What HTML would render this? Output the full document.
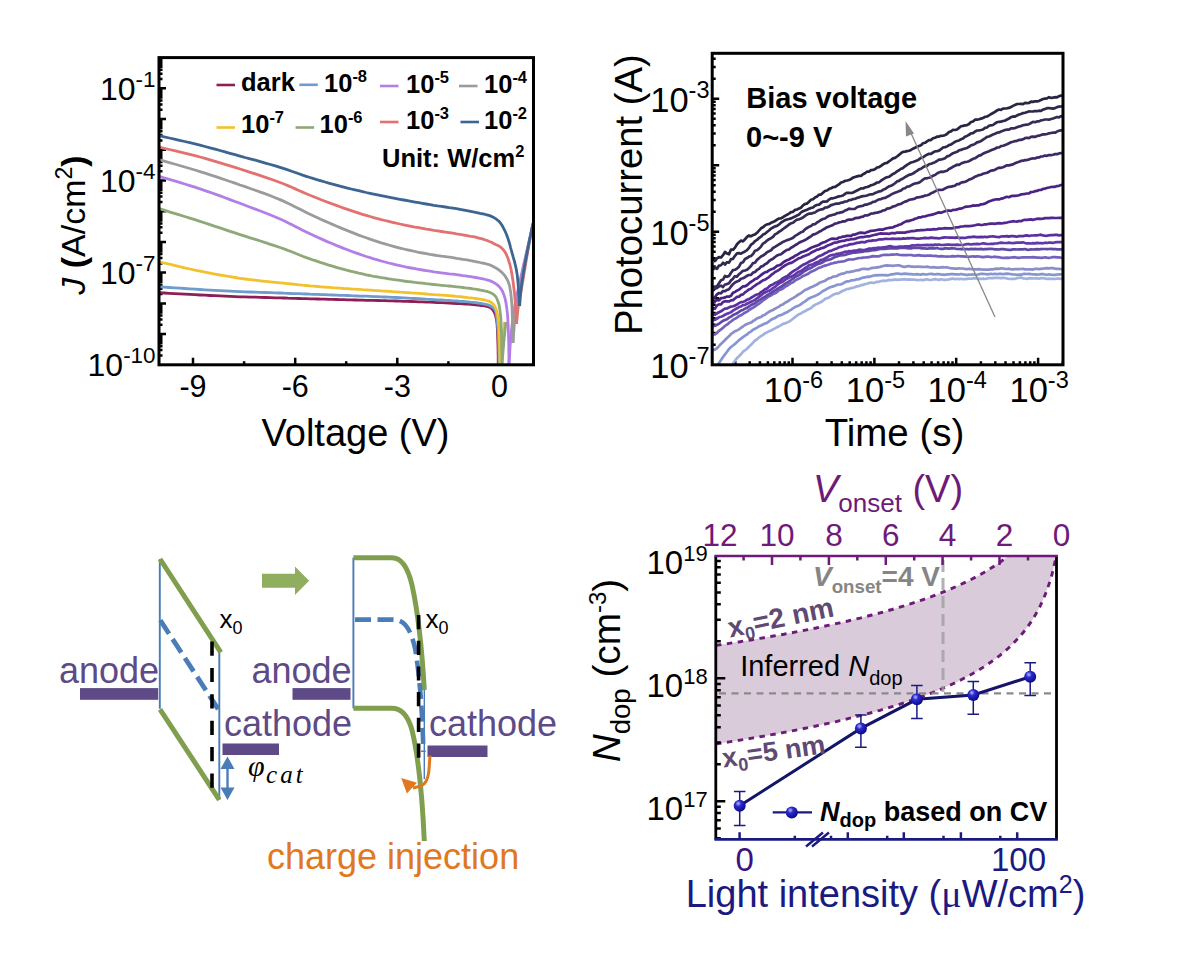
<!DOCTYPE html>
<html><head><meta charset="utf-8"><style>
html,body{margin:0;padding:0;background:#fff;}
svg{display:block;}
text{font-family:"Liberation Sans", sans-serif;}
</style></head><body>
<svg width="1181" height="959" viewBox="0 0 1181 959">
<rect width="1181" height="959" fill="#fff"/>
<path d="M193,364.8 v-7 M295.2,364.8 v-7 M397.3,364.8 v-7 M499.5,364.8 v-7 M244.1,364.8 v-3.5 M346.2,364.8 v-3.5 M448.4,364.8 v-3.5 M159,355.6 h3.5 M159,350.1 h3.5 M159,346.3 h3.5 M159,343.3 h3.5 M159,340.9 h3.5 M159,338.8 h3.5 M159,337.1 h3.5 M159,335.5 h3.5 M159,334.1 h7 M159,324.8 h3.5 M159,319.4 h3.5 M159,315.6 h3.5 M159,312.6 h3.5 M159,310.2 h3.5 M159,308.1 h3.5 M159,306.3 h3.5 M159,304.8 h3.5 M159,303.4 h7 M159,294.1 h3.5 M159,288.7 h3.5 M159,284.9 h3.5 M159,281.9 h3.5 M159,279.5 h3.5 M159,277.4 h3.5 M159,275.6 h3.5 M159,274 h3.5 M159,272.6 h7 M159,263.4 h3.5 M159,258 h3.5 M159,254.1 h3.5 M159,251.2 h3.5 M159,248.7 h3.5 M159,246.7 h3.5 M159,244.9 h3.5 M159,243.3 h3.5 M159,241.9 h7 M159,232.7 h3.5 M159,227.3 h3.5 M159,223.4 h3.5 M159,220.4 h3.5 M159,218 h3.5 M159,216 h3.5 M159,214.2 h3.5 M159,212.6 h3.5 M159,211.2 h7 M159,202 h3.5 M159,196.5 h3.5 M159,192.7 h3.5 M159,189.7 h3.5 M159,187.3 h3.5 M159,185.2 h3.5 M159,183.5 h3.5 M159,181.9 h3.5 M159,180.5 h7 M159,171.2 h3.5 M159,165.8 h3.5 M159,162 h3.5 M159,159 h3.5 M159,156.6 h3.5 M159,154.5 h3.5 M159,152.7 h3.5 M159,151.2 h3.5 M159,149.8 h7 M159,140.5 h3.5 M159,135.1 h3.5 M159,131.3 h3.5 M159,128.3 h3.5 M159,125.9 h3.5 M159,123.8 h3.5 M159,122 h3.5 M159,120.4 h3.5 M159,119 h7 M159,109.8 h3.5 M159,104.4 h3.5 M159,100.5 h3.5 M159,97.6 h3.5 M159,95.1 h3.5 M159,93.1 h3.5 M159,91.3 h3.5 M159,89.7 h3.5 M159,88.3 h7 M159,79.1 h3.5 M159,73.7 h3.5 M159,69.8 h3.5 M159,66.8 h3.5 M159,64.4 h3.5 M159,62.4 h3.5 M159,60.6 h3.5 M159,59 h3.5 " stroke="#000" stroke-width="2.5" fill="none"/>
<clipPath id="c1"><rect x="159.0" y="57.6" width="374.5" height="307.2"/></clipPath>
<g clip-path="url(#c1)" fill="none" stroke-linejoin="round" stroke-width="2.8">
<path d="M500,365 L500.2,362.5 L500.5,360 L500.7,357.6 L501,355.1 L501.2,352.6 L501.5,350.1 L501.7,347.6 L502,345 L502.3,342.2 L502.6,339.4 L502.9,336.5 L503.2,333.6 L503.5,330.7 L503.9,327.8 L504.2,324.9 L504.5,322" stroke="#f2c12e"/>
<path d="M502,365 L502.2,361.8 L502.5,358.7 L502.7,355.4 L503,352.2 L503.2,349.1 L503.5,346 L503.7,342.9 L504,340 L504.2,337.6 L504.5,335.3 L504.7,333 L505,330.8 L505.2,328.6 L505.5,326.4 L505.7,324.2 L506,322" stroke="#8fa878"/>
<path d="M509,365 L509.2,361.2 L509.5,357.5 L509.7,353.7 L509.9,350 L510.1,346.2 L510.4,342.5 L510.7,338.7 L511,335 L511.4,331.3 L511.8,327.5 L512.2,323.8 L512.7,320.1 L513.2,316.3 L513.8,312.6 L514.4,308.8 L515,305 L515.7,301 L516.5,297 L517.3,293 L518.2,289 L519.1,284.9 L520,280.7 L521,276.4 L522,272 L523.2,266.4 L524.6,260.6 L525.9,254.7 L527.3,248.6 L528.8,242.4 L530.2,236.2 L531.6,230.1 L533,224" stroke="#b27fe6"/>
<path d="M513,343 L513.2,339.9 L513.4,336.7 L513.6,333.5 L513.9,330.4 L514.1,327.2 L514.3,324.1 L514.6,321 L515,318 L515.4,315.2 L515.8,312.5 L516.3,309.8 L516.8,307.2 L517.4,304.5 L517.9,301.8 L518.5,299 L519,296 L519.7,292.1 L520.4,288.1 L521.1,283.9 L521.8,279.6 L522.6,275.2 L523.4,270.8 L524.2,266.4 L525,262 L525.9,257.3 L526.9,252.6 L527.9,247.9 L528.9,243.1 L529.9,238.3 L531,233.5 L532,228.8 L533,224" stroke="#9b9b9b"/>
<path d="M516.5,324 L516.7,321.6 L517,319.3 L517.2,317 L517.4,314.7 L517.6,312.3 L517.9,309.9 L518.2,307.5 L518.5,305 L518.9,302 L519.5,299 L520,296 L520.6,292.9 L521.2,289.7 L521.8,286.5 L522.4,283.3 L523,280 L523.6,276.4 L524.2,272.6 L524.9,268.9 L525.5,265 L526.1,261.2 L526.7,257.4 L527.4,253.7 L528,250 L528.6,246.7 L529.2,243.4 L529.9,240.1 L530.5,236.9 L531.1,233.7 L531.7,230.5 L532.4,227.2 L533,224" stroke="#e3716f"/>
<path d="M159,292.7 L164.1,293 L169.3,293.3 L174.4,293.6 L179.5,293.9 L184.7,294.1 L189.8,294.4 L194.9,294.7 L200,295 L205,295.2 L210,295.5 L215,295.7 L220,295.9 L225,296.1 L230,296.4 L235,296.6 L240,296.8 L245,296.9 L250.1,297.1 L255.3,297.2 L260.4,297.4 L265.4,297.5 L270.4,297.7 L275.3,297.8 L280,297.9 L284,298 L287.8,298.2 L291.6,298.3 L295.3,298.4 L298.9,298.5 L302.6,298.6 L306.3,298.7 L310,298.8 L313.7,298.9 L317.5,299 L321.2,299.1 L325,299.2 L328.7,299.3 L332.5,299.4 L336.2,299.5 L340,299.6 L343.7,299.7 L347.5,299.8 L351.2,299.9 L355,300 L358.7,300.1 L362.5,300.2 L366.3,300.3 L370,300.4 L373.8,300.4 L377.5,300.5 L381.3,300.6 L385,300.7 L388.8,300.8 L392.5,300.9 L396.3,301 L400,301.1 L403.8,301.3 L407.5,301.4 L411.3,301.5 L415,301.6 L418.8,301.8 L422.5,301.9 L426.3,302.1 L430,302.2 L433.8,302.4 L437.6,302.6 L441.5,302.7 L445.4,302.9 L449.2,303.1 L452.9,303.3 L456.5,303.5 L460,303.7 L462.7,303.9 L465.4,304 L468.1,304.2 L470.7,304.4 L473.2,304.6 L475.6,304.8 L477.9,305 L480,305.3 L481.5,305.5 L482.9,305.7 L484.2,305.9 L485.6,306.1 L486.8,306.4 L488,306.7 L489,307 L490,307.5 L490.7,307.9 L491.3,308.3 L491.8,308.8 L492.3,309.3 L492.8,309.9 L493.2,310.4 L493.6,311 L494,311.7 L494.4,312.5 L494.8,313.4 L495.2,314.4 L495.5,315.4 L495.8,316.5 L496,317.6 L496.3,318.8 L496.5,320 L496.8,322.1 L497.1,324.3 L497.2,326.7 L497.4,329.3 L497.5,331.9 L497.6,334.6 L497.7,337.3 L497.8,340 L497.9,343 L498,346.1 L498.1,349.2 L498.1,352.3 L498.2,355.5 L498.2,358.7 L498.2,361.9 L498.3,365" stroke="#8e1f56"/>
<path d="M159,286.8 L164.1,287.1 L169.3,287.5 L174.4,287.8 L179.5,288.2 L184.7,288.5 L189.8,288.9 L194.9,289.2 L200,289.5 L205,289.8 L210,290.1 L215,290.3 L220,290.6 L225,290.9 L230,291.1 L235,291.3 L240,291.6 L245,291.8 L250.1,292 L255.3,292.2 L260.4,292.3 L265.4,292.5 L270.4,292.7 L275.3,292.8 L280,293 L284,293.2 L287.8,293.3 L291.6,293.5 L295.3,293.6 L298.9,293.7 L302.6,293.9 L306.3,294 L310,294.2 L313.7,294.3 L317.5,294.4 L321.2,294.6 L325,294.7 L328.7,294.9 L332.5,295 L336.3,295.1 L340,295.3 L343.8,295.4 L347.5,295.5 L351.3,295.7 L355,295.8 L358.8,296 L362.5,296.1 L366.3,296.2 L370,296.4 L373.8,296.6 L377.5,296.7 L381.3,296.9 L385,297 L388.8,297.2 L392.5,297.4 L396.3,297.5 L400,297.7 L403.8,297.9 L407.5,298.1 L411.3,298.3 L415,298.5 L418.8,298.7 L422.5,298.9 L426.3,299.2 L430,299.4 L433.8,299.6 L437.6,299.8 L441.5,300 L445.4,300.3 L449.2,300.5 L452.9,300.8 L456.5,301 L460,301.3 L462.7,301.5 L465.5,301.7 L468.1,301.9 L470.7,302.2 L473.2,302.4 L475.6,302.7 L477.9,303 L480,303.3 L481.5,303.5 L482.9,303.8 L484.2,304 L485.5,304.3 L486.7,304.6 L487.9,304.9 L489,305.3 L490,305.8 L490.8,306.2 L491.5,306.6 L492.2,307.1 L492.9,307.6 L493.5,308.1 L494,308.7 L494.5,309.3 L495,310 L495.5,311 L495.9,312 L496.1,313.2 L496.3,314.4 L496.5,315.8 L496.7,317.1 L496.8,318.5 L497,320 L497.3,322.2 L497.5,324.5 L497.7,326.9 L497.9,329.4 L498.1,332 L498.2,334.7 L498.4,337.3 L498.5,340 L498.6,343 L498.7,346.1 L498.8,349.2 L498.8,352.3 L498.9,355.5 L498.9,358.7 L498.9,361.9 L499,365" stroke="#6e9ccc"/>
<path d="M159,261.8 L164.1,263 L169.3,264.2 L174.4,265.4 L179.5,266.7 L184.6,267.9 L189.8,269 L194.9,270.2 L200,271.2 L205,272.2 L210,273.2 L215,274.1 L220,275 L225,275.9 L230,276.7 L235,277.5 L240,278.3 L245,279 L250.1,279.6 L255.2,280.2 L260.3,280.8 L265.4,281.3 L270.4,281.8 L275.3,282.3 L280,282.8 L284,283.2 L287.8,283.6 L291.6,284 L295.3,284.4 L298.9,284.8 L302.6,285.2 L306.3,285.5 L310,285.9 L313.7,286.2 L317.5,286.5 L321.2,286.8 L325,287.1 L328.7,287.4 L332.5,287.7 L336.2,287.9 L340,288.2 L343.7,288.5 L347.5,288.7 L351.2,289 L355,289.2 L358.7,289.4 L362.5,289.7 L366.2,289.9 L370,290.1 L373.8,290.4 L377.5,290.6 L381.3,290.9 L385,291.1 L388.8,291.3 L392.5,291.6 L396.3,291.8 L400,292.1 L403.8,292.3 L407.5,292.6 L411.3,292.9 L415,293.1 L418.8,293.4 L422.5,293.7 L426.3,294 L430,294.3 L433.8,294.6 L437.6,294.8 L441.5,295.1 L445.4,295.4 L449.2,295.7 L452.9,296 L456.5,296.4 L460,296.7 L462.7,297 L465.5,297.3 L468.1,297.6 L470.7,297.8 L473.2,298.2 L475.6,298.5 L477.9,298.8 L480,299.2 L481.5,299.5 L482.9,299.7 L484.2,299.9 L485.5,300.2 L486.7,300.5 L487.9,300.8 L489,301.2 L490,301.7 L490.8,302.2 L491.5,302.7 L492.2,303.3 L492.8,303.9 L493.4,304.5 L494,305.2 L494.5,305.9 L495,306.7 L495.5,307.6 L495.9,308.5 L496.2,309.5 L496.5,310.5 L496.8,311.6 L497,312.7 L497.3,313.8 L497.5,315 L497.8,316.6 L498,318.3 L498.2,320 L498.4,321.8 L498.6,323.7 L498.7,325.7 L498.9,327.8 L499,330 L499.2,333.7 L499.4,337.7 L499.5,342.1 L499.6,346.6 L499.7,351.2 L499.8,355.9 L499.9,360.5 L500,365" stroke="#f2c12e"/>
<path d="M159,208.6 L164.1,210.2 L169.3,211.8 L174.4,213.3 L179.5,214.9 L184.7,216.5 L189.8,218.1 L194.9,219.7 L200,221.3 L205,223 L210,224.6 L215,226.3 L220,227.9 L225,229.6 L230,231.3 L235,232.9 L240,234.6 L245,236.2 L250.1,237.8 L255.3,239.4 L260.4,241 L265.4,242.6 L270.4,244.3 L275.3,245.9 L280,247.5 L284,248.9 L287.8,250.4 L291.6,251.8 L295.3,253.3 L298.9,254.7 L302.6,256.2 L306.3,257.6 L310,258.9 L313.7,260.2 L317.5,261.4 L321.2,262.7 L325,263.9 L328.7,265.1 L332.5,266.2 L336.2,267.3 L340,268.4 L343.7,269.4 L347.5,270.4 L351.2,271.3 L355,272.2 L358.7,273.1 L362.5,273.9 L366.2,274.8 L370,275.5 L373.7,276.3 L377.5,276.9 L381.2,277.6 L385,278.2 L388.7,278.8 L392.5,279.4 L396.2,279.9 L400,280.4 L403.7,281 L407.5,281.5 L411.2,281.9 L415,282.4 L418.7,282.8 L422.5,283.2 L426.2,283.7 L430,284.1 L433.8,284.5 L437.6,284.9 L441.5,285.3 L445.4,285.7 L449.2,286 L452.9,286.4 L456.5,286.8 L460,287.2 L462.7,287.5 L465.5,287.9 L468.1,288.2 L470.7,288.5 L473.2,288.9 L475.6,289.2 L477.9,289.6 L480,290 L481.4,290.3 L482.8,290.5 L484.2,290.8 L485.5,291.1 L486.7,291.4 L487.9,291.7 L489,292.1 L490,292.5 L490.7,292.8 L491.5,293.2 L492.1,293.5 L492.8,293.9 L493.4,294.3 L493.9,294.8 L494.5,295.2 L495,295.8 L495.6,296.5 L496.1,297.3 L496.6,298.1 L497,299 L497.4,300 L497.8,301 L498.2,302 L498.5,303 L498.9,304.3 L499.2,305.7 L499.5,307.1 L499.7,308.6 L499.9,310.1 L500.1,311.7 L500.3,313.3 L500.5,315 L500.7,317.2 L500.9,319.5 L501,321.9 L501.1,324.4 L501.2,327 L501.3,329.6 L501.4,332.3 L501.5,335 L501.6,338.5 L501.7,342.1 L501.7,345.8 L501.8,349.6 L501.8,353.5 L501.9,357.4 L501.9,361.2 L502,365" stroke="#8fa878"/>
<path d="M159,176.3 L164.1,177.9 L169.3,179.4 L174.4,180.9 L179.6,182.4 L184.7,184 L189.8,185.6 L194.9,187.2 L200,188.9 L205,190.6 L210.1,192.3 L215.1,194.1 L220.1,195.9 L225.1,197.7 L230,199.6 L235,201.5 L240,203.3 L245.1,205.2 L250.2,207.2 L255.3,209.1 L260.4,211 L265.5,213 L270.5,215 L275.3,217 L280,219 L284,220.8 L287.8,222.7 L291.6,224.6 L295.3,226.4 L298.9,228.3 L302.6,230.2 L306.3,232 L310,233.8 L313.7,235.5 L317.5,237.3 L321.2,238.9 L325,240.6 L328.7,242.2 L332.5,243.8 L336.2,245.4 L340,246.9 L343.7,248.4 L347.5,249.8 L351.2,251.2 L355,252.6 L358.7,253.9 L362.5,255.2 L366.2,256.5 L370,257.7 L373.7,258.8 L377.5,259.9 L381.2,261 L385,262 L388.7,263 L392.5,263.9 L396.2,264.8 L400,265.7 L403.7,266.5 L407.5,267.3 L411.2,268 L415,268.7 L418.7,269.3 L422.5,270 L426.2,270.6 L430,271.2 L433.8,271.8 L437.6,272.3 L441.5,272.8 L445.4,273.3 L449.2,273.8 L452.9,274.2 L456.5,274.7 L460,275.2 L462.7,275.6 L465.5,275.9 L468.1,276.3 L470.7,276.7 L473.2,277.1 L475.6,277.5 L477.9,277.9 L480,278.3 L481.4,278.6 L482.8,278.9 L484.2,279.2 L485.5,279.5 L486.7,279.8 L487.8,280.1 L489,280.4 L490,280.8 L490.7,281.1 L491.4,281.4 L492,281.6 L492.6,281.9 L493.2,282.2 L493.8,282.6 L494.4,282.9 L495,283.3 L495.7,283.7 L496.3,284.2 L497,284.7 L497.6,285.2 L498.2,285.7 L498.9,286.3 L499.4,286.9 L500,287.5 L500.6,288.3 L501.2,289.1 L501.7,290 L502.2,290.9 L502.7,291.8 L503.1,292.8 L503.6,293.9 L504,295 L504.5,296.6 L505,298.3 L505.4,300 L505.8,301.9 L506.1,303.8 L506.4,305.8 L506.7,307.9 L507,310 L507.3,312.8 L507.6,315.7 L507.8,318.8 L508,321.9 L508.1,325.2 L508.3,328.4 L508.4,331.7 L508.5,335 L508.6,338.6 L508.7,342.3 L508.8,346 L508.8,349.8 L508.9,353.6 L508.9,357.4 L508.9,361.2 L509,365" stroke="#b27fe6"/>
<path d="M159,159.6 L164.1,161.1 L169.3,162.6 L174.4,164 L179.5,165.5 L184.7,167 L189.8,168.5 L194.9,170 L200,171.6 L205,173.2 L210.1,174.8 L215.1,176.4 L220.1,178.1 L225,179.8 L230,181.5 L235,183.2 L240,185 L245.1,186.7 L250.2,188.5 L255.3,190.3 L260.4,192.1 L265.5,193.9 L270.5,195.8 L275.3,197.7 L280,199.6 L284,201.4 L287.9,203.2 L291.6,205 L295.3,206.9 L299,208.8 L302.6,210.6 L306.3,212.4 L310,214.2 L313.7,215.9 L317.5,217.7 L321.2,219.4 L325,221.1 L328.7,222.7 L332.5,224.4 L336.2,226 L340,227.6 L343.7,229.1 L347.5,230.6 L351.2,232.1 L355,233.6 L358.7,235.1 L362.5,236.5 L366.2,237.8 L370,239.1 L373.7,240.4 L377.5,241.6 L381.2,242.8 L385,243.9 L388.7,245 L392.5,246.1 L396.2,247.1 L400,248.1 L403.7,249 L407.5,249.9 L411.2,250.7 L415,251.5 L418.7,252.3 L422.5,253 L426.2,253.7 L430,254.4 L433.8,255 L437.6,255.6 L441.5,256.2 L445.4,256.7 L449.2,257.2 L452.9,257.7 L456.5,258.3 L460,258.8 L462.7,259.3 L465.5,259.7 L468.1,260.2 L470.7,260.7 L473.2,261.1 L475.6,261.6 L477.9,262 L480,262.5 L481.4,262.8 L482.8,263.1 L484.2,263.4 L485.5,263.7 L486.7,264 L487.8,264.3 L489,264.6 L490,265 L490.7,265.3 L491.4,265.6 L492,265.9 L492.6,266.2 L493.2,266.5 L493.8,266.8 L494.4,267.2 L495,267.5 L495.6,267.9 L496.3,268.2 L496.9,268.6 L497.5,269 L498.2,269.4 L498.8,269.9 L499.4,270.3 L500,270.8 L500.7,271.4 L501.3,271.9 L502,272.5 L502.6,273.2 L503.2,273.8 L503.9,274.5 L504.4,275.2 L505,276 L505.6,276.9 L506.2,277.8 L506.7,278.7 L507.2,279.6 L507.7,280.7 L508.2,281.7 L508.6,282.8 L509,284 L509.5,285.7 L509.9,287.5 L510.2,289.5 L510.6,291.5 L510.8,293.6 L511.1,295.7 L511.3,297.9 L511.5,300 L511.7,302.4 L511.9,304.8 L512,307.3 L512.1,309.8 L512.2,312.3 L512.3,314.8 L512.4,317.4 L512.5,320 L512.6,322.8 L512.7,325.6 L512.7,328.5 L512.8,331.4 L512.8,334.3 L512.9,337.2 L512.9,340.1 L513,343" stroke="#9b9b9b"/>
<path d="M159,147.1 L164.1,148.3 L169.3,149.5 L174.4,150.7 L179.6,151.9 L184.7,153.1 L189.8,154.4 L194.9,155.6 L200,157 L205,158.4 L210.1,159.8 L215.1,161.3 L220.1,162.8 L225,164.3 L230,165.9 L235,167.4 L240,169 L245.1,170.6 L250.2,172.3 L255.3,173.9 L260.4,175.6 L265.5,177.3 L270.4,179 L275.3,180.7 L280,182.5 L284,184 L287.8,185.6 L291.6,187.3 L295.3,188.9 L298.9,190.5 L302.6,192.1 L306.3,193.7 L310,195.3 L313.7,196.8 L317.5,198.3 L321.2,199.8 L325,201.2 L328.7,202.6 L332.5,204 L336.2,205.4 L340,206.8 L343.7,208.1 L347.5,209.4 L351.2,210.6 L355,211.9 L358.7,213.1 L362.5,214.3 L366.2,215.4 L370,216.5 L373.7,217.6 L377.5,218.6 L381.2,219.6 L385,220.5 L388.7,221.4 L392.5,222.3 L396.2,223.2 L400,224 L403.7,224.8 L407.5,225.6 L411.2,226.3 L415,227.1 L418.7,227.7 L422.5,228.4 L426.2,229.1 L430,229.7 L433.8,230.4 L437.6,230.9 L441.5,231.5 L445.4,232.1 L449.2,232.6 L452.9,233.2 L456.5,233.8 L460,234.3 L462.7,234.8 L465.5,235.3 L468.1,235.8 L470.7,236.3 L473.2,236.7 L475.6,237.2 L477.9,237.8 L480,238.3 L481.5,238.7 L482.8,239.1 L484.2,239.5 L485.5,240 L486.7,240.4 L487.8,240.8 L488.9,241.3 L490,241.7 L490.7,242 L491.4,242.3 L492,242.6 L492.6,242.9 L493.2,243.3 L493.8,243.6 L494.4,243.9 L495,244.2 L495.6,244.5 L496.3,244.8 L496.9,245 L497.5,245.3 L498.2,245.6 L498.8,245.9 L499.4,246.3 L500,246.7 L500.7,247.2 L501.3,247.8 L502,248.3 L502.6,249 L503.2,249.6 L503.8,250.4 L504.4,251.2 L505,252 L505.7,253.3 L506.5,254.7 L507.1,256.3 L507.8,257.9 L508.4,259.6 L508.9,261.4 L509.5,263.2 L510,265 L510.6,267.3 L511.1,269.7 L511.6,272.2 L512,274.7 L512.4,277.3 L512.8,279.9 L513.2,282.5 L513.5,285 L513.8,287.5 L514.1,290 L514.4,292.5 L514.7,295 L514.9,297.5 L515.1,300 L515.3,302.5 L515.5,305 L515.7,307.4 L515.8,309.8 L515.9,312.2 L516.1,314.5 L516.2,316.9 L516.3,319.3 L516.4,321.6 L516.5,324" stroke="#e3716f"/>
<path d="M159,135.6 L164.1,136.8 L169.3,138 L174.4,139.1 L179.5,140.3 L184.7,141.5 L189.8,142.7 L194.9,143.9 L200,145.2 L205,146.5 L210,147.8 L215.1,149.2 L220,150.5 L225,151.9 L230,153.3 L235,154.7 L240,156.1 L245,157.5 L250.1,158.8 L255.3,160.2 L260.4,161.6 L265.4,163.1 L270.4,164.5 L275.3,165.9 L280,167.3 L284,168.6 L287.8,169.9 L291.6,171.2 L295.3,172.5 L298.9,173.8 L302.6,175.1 L306.3,176.3 L310,177.5 L313.7,178.7 L317.5,179.8 L321.2,180.9 L325,182 L328.7,183.1 L332.5,184.1 L336.2,185.1 L340,186.1 L343.7,187.1 L347.5,188.1 L351.2,189 L355,189.9 L358.7,190.7 L362.5,191.6 L366.2,192.5 L370,193.3 L373.7,194.1 L377.5,194.9 L381.2,195.6 L385,196.4 L388.7,197.1 L392.5,197.9 L396.2,198.6 L400,199.3 L403.7,200 L407.5,200.7 L411.2,201.4 L415,202.1 L418.7,202.7 L422.5,203.4 L426.2,204 L430,204.6 L433.8,205.3 L437.6,205.9 L441.5,206.4 L445.4,207 L449.2,207.6 L452.9,208.1 L456.5,208.7 L460,209.3 L462.7,209.8 L465.5,210.3 L468.1,210.8 L470.7,211.3 L473.2,211.8 L475.6,212.3 L477.9,212.8 L480,213.3 L481.4,213.6 L482.8,213.9 L484.2,214.2 L485.5,214.5 L486.7,214.8 L487.8,215.1 L489,215.4 L490,215.8 L490.7,216.1 L491.4,216.4 L492,216.6 L492.6,216.9 L493.2,217.2 L493.8,217.6 L494.4,217.9 L495,218.3 L495.6,218.7 L496.3,219.2 L496.9,219.6 L497.5,220.1 L498.2,220.6 L498.8,221.2 L499.4,221.8 L500,222.5 L500.9,223.7 L501.8,225 L502.7,226.5 L503.5,228.1 L504.4,229.8 L505.2,231.5 L506,233.3 L506.7,235 L507.4,236.9 L508.1,238.9 L508.8,241 L509.4,243.1 L510,245.2 L510.5,247.3 L511.1,249.5 L511.7,251.7 L512.4,254.1 L513,256.4 L513.7,258.8 L514.4,261.2 L515,263.7 L515.6,266.3 L516.2,268.9 L516.7,271.7 L517.3,275.5 L517.7,279.6 L518.1,283.9 L518.4,288.3 L518.7,292.7 L519,297.2 L519.3,301.6 L519.6,306" stroke="#3c6592"/>
<path d="M519.6,306 L519.8,304 L519.9,302 L520.1,300 L520.2,298.1 L520.4,296.1 L520.6,294.1 L520.8,292 L521,290 L521.3,287.8 L521.5,285.6 L521.8,283.4 L522.1,281.2 L522.4,279 L522.8,276.7 L523.1,274.4 L523.5,272 L524,269.2 L524.5,266.2 L525,263.3 L525.6,260.2 L526.2,257.2 L526.8,254.1 L527.4,251 L528,248 L528.6,244.9 L529.2,241.8 L529.8,238.7 L530.5,235.5 L531.1,232.4 L531.7,229.3 L532.4,226.1 L533,223" stroke="#3c6592" stroke-width="2.8"/>
</g>
<rect x="159.0" y="57.6" width="374.5" height="307.2" fill="none" stroke="#000" stroke-width="3"/>
<text x="193" y="397" font-size="30.5" text-anchor="middle" font-weight="normal" font-style="normal" fill="#000" >-9</text>
<text x="295.2" y="397" font-size="30.5" text-anchor="middle" font-weight="normal" font-style="normal" fill="#000" >-6</text>
<text x="397.3" y="397" font-size="30.5" text-anchor="middle" font-weight="normal" font-style="normal" fill="#000" >-3</text>
<text x="499.5" y="397" font-size="30.5" text-anchor="middle" font-weight="normal" font-style="normal" fill="#000" >0</text>
<text x="155.5" y="99.8" font-size="32" text-anchor="end">10<tspan font-size="22.4" dy="-13">-1</tspan></text>
<text x="155.5" y="192" font-size="32" text-anchor="end">10<tspan font-size="22.4" dy="-13">-4</tspan></text>
<text x="155.5" y="284.1" font-size="32" text-anchor="end">10<tspan font-size="22.4" dy="-13">-7</tspan></text>
<text x="155.5" y="376.3" font-size="32" text-anchor="end">10<tspan font-size="22.4" dy="-13">-10</tspan></text>
<text x="355.5" y="445.5" font-size="38" text-anchor="middle" font-weight="normal" font-style="normal" fill="#000" >Voltage (V)</text>
<text transform="translate(85,225) rotate(-90)" font-size="34" text-anchor="middle"><tspan font-style="italic">J</tspan> <tspan font-weight="bold">(</tspan>A/cm<tspan font-size="23" dy="-13">2</tspan><tspan dy="13" font-weight="bold">)</tspan></text>
<path d="M216.5,85 h18.5" stroke="#8e1f56" stroke-width="2.6"/>
<text x="241" y="91.4" font-size="25.5" font-weight="bold">dark</text>
<path d="M299.3,84.8 h18.5" stroke="#6e9ccc" stroke-width="2.6"/>
<text x="324" y="91.6" font-size="25.5" font-weight="bold">10<tspan font-size="16.5" dy="-10">-8</tspan></text>
<path d="M380,86 h18.5" stroke="#b27fe6" stroke-width="2.6"/>
<text x="406" y="93" font-size="25.5" font-weight="bold">10<tspan font-size="16.5" dy="-10">-5</tspan></text>
<path d="M459,86 h18.5" stroke="#9b9b9b" stroke-width="2.6"/>
<text x="484" y="93" font-size="25.5" font-weight="bold">10<tspan font-size="16.5" dy="-10">-4</tspan></text>
<path d="M216.5,127.5 h18.5" stroke="#f2c12e" stroke-width="2.6"/>
<text x="241" y="133.4" font-size="25.5" font-weight="bold">10<tspan font-size="16.5" dy="-10">-7</tspan></text>
<path d="M295.6,127.5 h18.5" stroke="#8fa878" stroke-width="2.6"/>
<text x="319.5" y="133.4" font-size="25.5" font-weight="bold">10<tspan font-size="16.5" dy="-10">-6</tspan></text>
<path d="M380,122 h18.5" stroke="#e3716f" stroke-width="2.6"/>
<text x="406" y="129" font-size="25.5" font-weight="bold">10<tspan font-size="16.5" dy="-10">-3</tspan></text>
<path d="M460.5,122 h18.5" stroke="#3c6592" stroke-width="2.6"/>
<text x="484" y="129" font-size="25.5" font-weight="bold">10<tspan font-size="16.5" dy="-10">-2</tspan></text>
<text x="382" y="167" font-size="25.5" font-weight="bold">Unit: W/cm<tspan font-size="16.5" dy="-10">2</tspan></text>
<path d="M735.3,364.8 v-3.5 M749.7,364.8 v-3.5 M759.9,364.8 v-3.5 M767.9,364.8 v-3.5 M774.3,364.8 v-3.5 M779.8,364.8 v-3.5 M784.6,364.8 v-3.5 M788.8,364.8 v-3.5 M792.5,364.8 v-7 M817.1,364.8 v-3.5 M831.6,364.8 v-3.5 M841.8,364.8 v-3.5 M849.7,364.8 v-3.5 M856.2,364.8 v-3.5 M861.7,364.8 v-3.5 M866.4,364.8 v-3.5 M870.6,364.8 v-3.5 M874.4,364.8 v-7 M899,364.8 v-3.5 M913.4,364.8 v-3.5 M923.7,364.8 v-3.5 M931.6,364.8 v-3.5 M938.1,364.8 v-3.5 M943.6,364.8 v-3.5 M948.3,364.8 v-3.5 M952.5,364.8 v-3.5 M956.2,364.8 v-7 M980.9,364.8 v-3.5 M995.3,364.8 v-3.5 M1005.5,364.8 v-3.5 M1013.5,364.8 v-3.5 M1019.9,364.8 v-3.5 M1025.4,364.8 v-3.5 M1030.2,364.8 v-3.5 M1034.4,364.8 v-3.5 M1038.1,364.8 v-7 M1062.8,364.8 v-3.5 M712.2,344.8 h3.5 M712.2,333.1 h3.5 M712.2,324.8 h3.5 M712.2,318.3 h3.5 M712.2,313.1 h3.5 M712.2,308.6 h3.5 M712.2,304.7 h3.5 M712.2,301.3 h3.5 M712.2,298.3 h7 M712.2,278.3 h3.5 M712.2,266.6 h3.5 M712.2,258.3 h3.5 M712.2,251.8 h3.5 M712.2,246.6 h3.5 M712.2,242.1 h3.5 M712.2,238.2 h3.5 M712.2,234.8 h3.5 M712.2,231.8 h7 M712.2,211.8 h3.5 M712.2,200.1 h3.5 M712.2,191.8 h3.5 M712.2,185.3 h3.5 M712.2,180.1 h3.5 M712.2,175.6 h3.5 M712.2,171.7 h3.5 M712.2,168.3 h3.5 M712.2,165.3 h7 M712.2,145.3 h3.5 M712.2,133.6 h3.5 M712.2,125.3 h3.5 M712.2,118.8 h3.5 M712.2,113.6 h3.5 M712.2,109.1 h3.5 M712.2,105.2 h3.5 M712.2,101.8 h3.5 M712.2,98.8 h7 M712.2,78.8 h3.5 M712.2,67.1 h3.5 M712.2,58.8 h3.5 " stroke="#000" stroke-width="2.5" fill="none"/>
<clipPath id="c2"><rect x="712.2" y="53.3" width="350.79999999999995" height="311.5"/></clipPath>
<g clip-path="url(#c2)" fill="none" stroke-width="2.7" stroke-linejoin="round">
<path d="M713,395 L715,395 L717,391.8 L719,387.8 L721,383.9 L723,380.1 L725,376 L727,372.6 L729,369.5 L731,366.8 L733,363.5 L735,360.8 L737,358.1 L739,356.3 L741,354.3 L743,351.7 L745,350.3 L747,348.7 L749,346.7 L751,344.8 L753,342.6 L755,340.5 L757,339.3 L759,337.5 L761,336.1 L763,334.8 L765,333.3 L767,332.4 L769,331.3 L771,330.6 L773,329.4 L775,328.4 L777,327.2 L779,326.3 L781,325.1 L783,323.8 L785,323.4 L787,322.6 L789,321.6 L791,320.3 L793,318.7 L795,317.1 L797,315.7 L799,314.2 L801,313.4 L803,312.1 L805,311.3 L807,309.9 L809,309.1 L811,308.1 L813,306.2 L815,304.8 L817,304.1 L819,302.9 L821,302.1 L823,300.7 L825,299 L827,298.2 L829,297.5 L831,296.1 L833,294.8 L835,293.9 L837,293.7 L839,293.1 L841,291.8 L843,290.8 L845,289.9 L847,289 L849,288.9 L851,288.1 L853,287.7 L855,287.1 L857,286.3 L859,286.1 L861,285.2 L863,284.9 L865,284.1 L867,283.7 L869,283 L871,282.5 L873,282.8 L875,282.6 L877,281.8 L879,281.8 L881,281.1 L883,280.7 L885,280.8 L887,280.6 L889,279.9 L891,280.3 L893,279.8 L895,279.5 L897,279.9 L899,279.7 L901,279.6 L903,279.3 L905,279.2 L907,279.6 L909,279.4 L911,279.7 L913,279.6 L915,279.7 L917,280.2 L919,280 L921,279.9 L923,280.2 L925,279.6 L927,279.3 L929,279.8 L931,280 L933,279.5 L935,279.2 L937,279.5 L939,279.9 L941,279.3 L943,279.7 L945,279.9 L947,279.7 L949,279.4 L951,278.9 L953,278.5 L955,279.2 L957,278.8 L959,279.1 L961,278.8 L963,279.2 L965,279.1 L967,278.8 L969,278.5 L971,278.8 L973,278.4 L975,278.2 L977,278.5 L979,278.9 L981,278.9 L983,278.6 L985,279 L987,278.5 L989,278.1 L991,278 L993,278.2 L995,277.9 L997,277.8 L999,277.9 L1001,278.2 L1003,277.9 L1005,278 L1007,278.5 L1009,279 L1011,278.9 L1013,278.9 L1015,278.8 L1017,278.2 L1019,277.8 L1021,277.5 L1023,278.3 L1025,278.5 L1027,278.9 L1029,278.2 L1031,278.3 L1033,278.3 L1035,278.5 L1037,278.2 L1039,278.7 L1041,278.1 L1043,278.2 L1045,278.5 L1047,278.8 L1049,278.8 L1051,278.8 L1053,278.8 L1055,279 L1057,278.5 L1059,278.6 L1061,278.8 L1063,278.9" stroke="#a2b2df"/>
<path d="M713,367.9 L715,368.2 L717,365.8 L719,362.9 L721,360.1 L723,357 L725,354.4 L727,351.8 L729,348.9 L731,347 L733,345.5 L735,343.9 L737,342.1 L739,340.1 L741,338.7 L743,337.2 L745,335.6 L747,334.5 L749,332.6 L751,331.6 L753,329.7 L755,328.8 L757,327.6 L759,326.3 L761,325.5 L763,324.4 L765,323.5 L767,322.9 L769,321.4 L771,319.8 L773,318.7 L775,318 L777,316.7 L779,315.5 L781,315.1 L783,314.2 L785,313 L787,312.3 L789,310.9 L791,309.9 L793,308.3 L795,307.1 L797,306.3 L799,305.4 L801,304.3 L803,302.6 L805,301.4 L807,299.9 L809,298.4 L811,297.5 L813,296.8 L815,296 L817,294.9 L819,294 L821,292.5 L823,291 L825,290 L827,288.9 L829,287.8 L831,287 L833,286.4 L835,285.7 L837,284.8 L839,284.5 L841,284.3 L843,283.4 L845,282.2 L847,281.3 L849,281.4 L851,280.4 L853,280.3 L855,279.9 L857,279.3 L859,279.2 L861,278.2 L863,277.6 L865,277.4 L867,276.7 L869,276.9 L871,276.3 L873,275.7 L875,275.2 L877,275.3 L879,275.1 L881,275.1 L883,275.1 L885,275.2 L887,275.3 L889,275.1 L891,274.4 L893,274.3 L895,273.9 L897,273.5 L899,273.7 L901,274.1 L903,273.8 L905,273.7 L907,273.8 L909,274.1 L911,274.2 L913,274.3 L915,274.5 L917,274.2 L919,274.5 L921,274.7 L923,274 L925,274.5 L927,274.5 L929,274 L931,273.9 L933,274.1 L935,274.5 L937,274.2 L939,274.2 L941,274.5 L943,274.6 L945,274.8 L947,274.4 L949,274.4 L951,274 L953,274.2 L955,274.4 L957,274.4 L959,274.5 L961,274 L963,274.4 L965,274.7 L967,274.9 L969,274.6 L971,274.7 L973,274.3 L975,274.6 L977,274.8 L979,274.3 L981,273.8 L983,273.9 L985,274 L987,274.3 L989,274.2 L991,273.7 L993,274.2 L995,273.7 L997,274.2 L999,273.8 L1001,273.8 L1003,274.2 L1005,273.8 L1007,273.6 L1009,273.8 L1011,274.2 L1013,274.5 L1015,274.5 L1017,274.8 L1019,274.5 L1021,274.8 L1023,274.1 L1025,273.9 L1027,274 L1029,273.9 L1031,274.2 L1033,274.4 L1035,274.3 L1037,274.6 L1039,274.5 L1041,274.2 L1043,274.1 L1045,274.5 L1047,274.8 L1049,274.3 L1051,274.7 L1053,275 L1055,274.8 L1057,274.7 L1059,274.3 L1061,274.4 L1063,274.4" stroke="#8596d2"/>
<path d="M713,350.1 L715,349.6 L717,348.2 L719,346.1 L721,343.9 L723,342.1 L725,340 L727,338 L729,336.3 L731,334 L733,332.6 L735,331.2 L737,330.4 L739,329.4 L741,327.8 L743,326.5 L745,325 L747,324 L749,323.3 L751,322.6 L753,321.2 L755,319.8 L757,318.4 L759,317.6 L761,317 L763,315.4 L765,314.7 L767,313.1 L769,311.8 L771,310.7 L773,310 L775,308.7 L777,307.6 L779,306.6 L781,305.1 L783,304.4 L785,302.8 L787,301.8 L789,300.5 L791,299.1 L793,298.1 L795,296.9 L797,295.5 L799,294.2 L801,293.1 L803,291.5 L805,290.1 L807,289.3 L809,288.3 L811,287.3 L813,286.5 L815,285.4 L817,284.6 L819,283.1 L821,282.3 L823,281.5 L825,280.8 L827,279.4 L829,278.3 L831,277.9 L833,276.7 L835,276.5 L837,276 L839,274.7 L841,273.9 L843,273.7 L845,272.9 L847,272.1 L849,272.2 L851,271.6 L853,271.5 L855,270.7 L857,270.3 L859,270.2 L861,269.3 L863,268.9 L865,268.9 L867,269.1 L869,269.1 L871,268.1 L873,267.8 L875,267.7 L877,267.4 L879,267.2 L881,266.6 L883,266 L885,265.6 L887,265.3 L889,265.6 L891,265.7 L893,265.8 L895,265.5 L897,265.4 L899,265.4 L901,266 L903,266.6 L905,266.9 L907,266.3 L909,266 L911,266.7 L913,266.6 L915,266.9 L917,266.7 L919,266.7 L921,266.8 L923,266.8 L925,267 L927,266.6 L929,267.1 L931,267.5 L933,267.2 L935,267.3 L937,267.6 L939,267.6 L941,267.3 L943,267.2 L945,267.5 L947,267.2 L949,267.9 L951,268.3 L953,268.4 L955,268.7 L957,268.7 L959,268.4 L961,268.5 L963,268.5 L965,269 L967,269.1 L969,268.7 L971,269.1 L973,269.2 L975,269.3 L977,269.4 L979,269.1 L981,269.4 L983,269.6 L985,269.5 L987,269.6 L989,269.6 L991,269.3 L993,269.4 L995,268.8 L997,268.7 L999,268.8 L1001,268.4 L1003,268.5 L1005,268.8 L1007,269 L1009,268.7 L1011,269.3 L1013,269.3 L1015,269 L1017,269.1 L1019,269.1 L1021,269 L1023,268.9 L1025,269.4 L1027,269.3 L1029,269.3 L1031,269.4 L1033,269.6 L1035,268.8 L1037,268.9 L1039,269.1 L1041,268.8 L1043,268.7 L1045,268.3 L1047,268.2 L1049,268.3 L1051,268.1 L1053,268.1 L1055,268.7 L1057,268.8 L1059,268.8 L1061,269.2 L1063,269.1" stroke="#8a8fca"/>
<path d="M713,334.4 L715,334.3 L717,332.9 L719,330.8 L721,329.3 L723,327.9 L725,325.9 L727,324.7 L729,322.9 L731,321.5 L733,319.9 L735,318.7 L737,317.6 L739,316 L741,315.3 L743,313.9 L745,312.7 L747,311.6 L749,310.2 L751,308.8 L753,307.7 L755,306.5 L757,304.9 L759,303.8 L761,302.2 L763,300.5 L765,299.1 L767,297.6 L769,296.3 L771,295.4 L773,294.1 L775,293.2 L777,292.1 L779,290.3 L781,289.5 L783,288.5 L785,286.7 L787,285.8 L789,284.4 L791,283.1 L793,282.2 L795,280.6 L797,279.4 L799,278.6 L801,277.4 L803,276.1 L805,275.3 L807,274.3 L809,273.2 L811,271.7 L813,270.9 L815,270 L817,268.9 L819,267.8 L821,267.2 L823,266.2 L825,265.6 L827,265.1 L829,264.4 L831,263.6 L833,263.2 L835,262.6 L837,262.3 L839,261.8 L841,261.7 L843,261.4 L845,261 L847,260.1 L849,259.4 L851,259.5 L853,259.4 L855,259 L857,258.5 L859,258 L861,258 L863,257.7 L865,257.5 L867,257.3 L869,257.2 L871,256.6 L873,256.1 L875,256.4 L877,256.4 L879,256.3 L881,255.5 L883,255 L885,254.9 L887,254.8 L889,255 L891,254.6 L893,254.7 L895,254.5 L897,254.3 L899,254.8 L901,255 L903,255.2 L905,255.1 L907,255.2 L909,255 L911,255 L913,255.4 L915,255.7 L917,255.3 L919,255.1 L921,255.6 L923,255.7 L925,255.9 L927,255.7 L929,255.7 L931,255.6 L933,256 L935,255.9 L937,256.1 L939,256.5 L941,256.2 L943,256.3 L945,256.5 L947,256.7 L949,256.5 L951,256.4 L953,256.1 L955,256.5 L957,256.2 L959,256 L961,256.3 L963,256.4 L965,256.7 L967,256.5 L969,256.8 L971,256.5 L973,256.4 L975,256.7 L977,256.4 L979,256.5 L981,256.8 L983,257.1 L985,256.9 L987,256.7 L989,256.7 L991,257.1 L993,257 L995,256.7 L997,257.1 L999,257.2 L1001,257.6 L1003,257.8 L1005,257.9 L1007,257.6 L1009,257.8 L1011,257.5 L1013,257.3 L1015,257.2 L1017,257.7 L1019,257.9 L1021,257.5 L1023,257.4 L1025,257.3 L1027,257.3 L1029,257.3 L1031,257.3 L1033,257.1 L1035,257.3 L1037,257.6 L1039,257.6 L1041,257.8 L1043,257.7 L1045,257.3 L1047,257.6 L1049,257.8 L1051,257.5 L1053,257.1 L1055,257.2 L1057,257.3 L1059,257.4 L1061,257.8 L1063,257.7" stroke="#7363be"/>
<path d="M713,326.2 L715,325.8 L717,324.7 L719,323.8 L721,322.2 L723,320.8 L725,320 L727,319.2 L729,317.6 L731,316.6 L733,315.1 L735,314.3 L737,313.3 L739,311.9 L741,310.6 L743,309.9 L745,308.7 L747,307.8 L749,306.5 L751,305.1 L753,304.3 L755,303.1 L757,301.7 L759,300.4 L761,299.2 L763,297.9 L765,296.8 L767,295.2 L769,294.1 L771,292.8 L773,291.6 L775,290.4 L777,289.1 L779,287.9 L781,286.8 L783,285.3 L785,283.8 L787,282.6 L789,281.5 L791,280 L793,278.6 L795,277 L797,276 L799,275.1 L801,273.6 L803,272.1 L805,270.8 L807,269.7 L809,268.6 L811,268 L813,266.6 L815,265.6 L817,264.4 L819,263.8 L821,263.2 L823,262 L825,260.8 L827,260.2 L829,259.6 L831,259.2 L833,258 L835,257.1 L837,256.4 L839,255.8 L841,255.3 L843,255.2 L845,254.9 L847,254.2 L849,253.6 L851,253.2 L853,252.7 L855,252.7 L857,252.3 L859,252.1 L861,252 L863,251.6 L865,251 L867,251.1 L869,251 L871,250.4 L873,250.1 L875,250.1 L877,249.7 L879,249.2 L881,248.6 L883,249 L885,249 L887,248.7 L889,248.5 L891,248.4 L893,248.1 L895,248.5 L897,248.5 L899,248.1 L901,247.7 L903,247.9 L905,247.9 L907,248.2 L909,248.4 L911,248.4 L913,248 L915,247.8 L917,247.8 L919,247.8 L921,248.3 L923,248.3 L925,248.4 L927,248.8 L929,248.4 L931,248.4 L933,248.1 L935,248.5 L937,248 L939,248.5 L941,248.8 L943,248.9 L945,248.4 L947,248.3 L949,248.6 L951,248.3 L953,248.4 L955,248.5 L957,249 L959,249 L961,249.2 L963,248.9 L965,249.1 L967,249 L969,249.3 L971,248.9 L973,249.2 L975,248.9 L977,249.1 L979,249.1 L981,248.9 L983,249.3 L985,249.1 L987,249.1 L989,248.8 L991,248.9 L993,249 L995,249.4 L997,249.3 L999,249.5 L1001,249.1 L1003,249.2 L1005,249.3 L1007,249.7 L1009,249.9 L1011,249.9 L1013,249.3 L1015,249.3 L1017,249.5 L1019,249.3 L1021,249.4 L1023,249.4 L1025,249 L1027,249.6 L1029,249.8 L1031,249.4 L1033,249.5 L1035,249.3 L1037,249.2 L1039,249.3 L1041,249.1 L1043,249 L1045,249 L1047,249.2 L1049,249 L1051,248.8 L1053,249.1 L1055,249 L1057,249.3 L1059,249.3 L1061,249.3 L1063,249" stroke="#5e4aa6"/>
<path d="M713,320.3 L715,319.8 L717,318.5 L719,317.3 L721,316.7 L723,316 L725,314.7 L727,313.7 L729,313.1 L731,312.1 L733,310.6 L735,309.4 L737,308.3 L739,307.1 L741,306.4 L743,305.2 L745,304.9 L747,303.8 L749,302.7 L751,301.8 L753,300.9 L755,299.9 L757,298.3 L759,296.8 L761,295.4 L763,293.7 L765,292.5 L767,291.5 L769,290.7 L771,289.6 L773,288.2 L775,286.9 L777,285 L779,283.7 L781,282.4 L783,281.5 L785,279.9 L787,278.7 L789,277.6 L791,276.8 L793,275.8 L795,274.5 L797,272.7 L799,271.8 L801,270.9 L803,269.5 L805,268 L807,266.9 L809,265.4 L811,264.8 L813,264.2 L815,263.1 L817,262.2 L819,261.4 L821,259.9 L823,259.5 L825,258.5 L827,257.3 L829,256.1 L831,255.3 L833,254.9 L835,254.6 L837,253.8 L839,253.7 L841,253 L843,252.5 L845,251.7 L847,251.9 L849,251.1 L851,251.3 L853,250.9 L855,250.6 L857,250.3 L859,249.7 L861,249.9 L863,250.1 L865,249.9 L867,249.4 L869,248.6 L871,248.7 L873,248.2 L875,248.4 L877,247.8 L879,247.7 L881,247.9 L883,247.3 L885,247.3 L887,246.8 L889,246.4 L891,246.2 L893,246.9 L895,247.2 L897,247 L899,246.6 L901,246.6 L903,246.7 L905,246.3 L907,246.3 L909,246.4 L911,245.7 L913,245.4 L915,245.5 L917,245.1 L919,245.2 L921,245.3 L923,245 L925,245.1 L927,244.9 L929,245.1 L931,244.9 L933,245.1 L935,244.6 L937,244.9 L939,244.5 L941,245 L943,245 L945,244.8 L947,244.6 L949,244.7 L951,244.8 L953,244.9 L955,244.9 L957,244.6 L959,244.9 L961,245 L963,245 L965,244.5 L967,244.2 L969,244.2 L971,244.5 L973,244.2 L975,244.1 L977,243.9 L979,244.2 L981,243.8 L983,243.3 L985,243.6 L987,244 L989,244 L991,243.9 L993,243.9 L995,243.5 L997,243.5 L999,243 L1001,242.7 L1003,242.9 L1005,243 L1007,243 L1009,242.6 L1011,243 L1013,243.1 L1015,242.8 L1017,242.7 L1019,242.7 L1021,242.6 L1023,242.3 L1025,243 L1027,243.4 L1029,243.4 L1031,243.5 L1033,243.2 L1035,243.4 L1037,242.9 L1039,243.1 L1041,243 L1043,243.3 L1045,242.7 L1047,243 L1049,242.5 L1051,242.6 L1053,243 L1055,242.3 L1057,242.2 L1059,242.1 L1061,242.1 L1063,241.8" stroke="#6238ab"/>
<path d="M713,314.4 L715,314.6 L717,313.3 L719,312.2 L721,311.3 L723,309.9 L725,308.7 L727,308.5 L729,307.4 L731,306.6 L733,306.2 L735,305.6 L737,304.5 L739,303.1 L741,302.1 L743,301.8 L745,301.2 L747,299.7 L749,299.1 L751,297.8 L753,296.7 L755,295.3 L757,294.6 L759,293.9 L761,292.1 L763,291 L765,289.3 L767,288.5 L769,286.7 L771,285.2 L773,284.4 L775,283 L777,282.2 L779,281.2 L781,280 L783,278.1 L785,277.1 L787,276.2 L789,274.6 L791,272.9 L793,271.4 L795,270.1 L797,269.1 L799,267.6 L801,266.1 L803,264.8 L805,263.9 L807,263.1 L809,261.7 L811,260.8 L813,260 L815,258.8 L817,257.3 L819,256.1 L821,255.5 L823,254.6 L825,253.2 L827,252.4 L829,251.1 L831,250.9 L833,249.9 L835,249.1 L837,248.4 L839,247.3 L841,246.9 L843,246.2 L845,245.5 L847,245.5 L849,244.6 L851,244.1 L853,244.1 L855,243.4 L857,242.9 L859,242.7 L861,242.1 L863,242.2 L865,242.3 L867,241.3 L869,240.9 L871,240.9 L873,240.4 L875,240.5 L877,240.1 L879,239.4 L881,239.3 L883,239.3 L885,238.9 L887,238.9 L889,239 L891,238.8 L893,238.6 L895,238.8 L897,238.8 L899,238.6 L901,239 L903,238.4 L905,238.7 L907,238.2 L909,238.4 L911,238.1 L913,238.1 L915,238.4 L917,238.6 L919,238.7 L921,238.3 L923,238.2 L925,237.9 L927,238.1 L929,238.1 L931,237.6 L933,237.9 L935,238.2 L937,238.2 L939,238.5 L941,238 L943,237.6 L945,237.3 L947,237.5 L949,237.6 L951,237.6 L953,237.5 L955,237.9 L957,237.4 L959,237.9 L961,237.9 L963,237.8 L965,238 L967,237.5 L969,237.1 L971,237.1 L973,236.7 L975,236.8 L977,237.1 L979,237.2 L981,236.9 L983,237.1 L985,236.7 L987,237.1 L989,236.7 L991,236.5 L993,236.3 L995,236.7 L997,237 L999,237.2 L1001,236.5 L1003,236.4 L1005,236.3 L1007,236.1 L1009,236.6 L1011,236 L1013,236.1 L1015,236.4 L1017,236.8 L1019,236.1 L1021,236 L1023,236.2 L1025,235.6 L1027,235.4 L1029,236 L1031,235.5 L1033,235.5 L1035,235.3 L1037,235.3 L1039,235 L1041,234.7 L1043,235.5 L1045,235.7 L1047,235.8 L1049,235.3 L1051,235 L1053,235.1 L1055,234.9 L1057,234.9 L1059,235.4 L1061,235.1 L1063,234.9" stroke="#5b2fa0"/>
<path d="M713,308.7 L715,308.4 L717,305.4 L719,304.4 L721,304.3 L723,302 L725,301.2 L727,301.3 L729,301.5 L731,300.4 L733,300.1 L735,298.5 L737,296.9 L739,296.6 L741,294.9 L743,294.4 L745,292.4 L747,291 L749,289.4 L751,288.7 L753,287 L755,285.6 L757,284.1 L759,283.1 L761,281.6 L763,280.3 L765,279.7 L767,278.3 L769,277.1 L771,275.2 L773,273.7 L775,272 L777,271.1 L779,269.8 L781,268.4 L783,266.8 L785,265.5 L787,264.4 L789,263.4 L791,262.9 L793,262 L795,260.6 L797,259.4 L799,258.1 L801,257.7 L803,256.5 L805,255.8 L807,255 L809,254.3 L811,252.7 L813,251.7 L815,250.8 L817,249.6 L819,249.4 L821,248.3 L823,247.9 L825,247 L827,245.8 L829,245.1 L831,244.3 L833,243.3 L835,242.6 L837,242.5 L839,241.6 L841,241.2 L843,240.8 L845,240.6 L847,239.8 L849,239.8 L851,239.2 L853,239.1 L855,238.9 L857,238.1 L859,237.5 L861,237.1 L863,237.2 L865,236.7 L867,236.3 L869,236.4 L871,235.7 L873,235.2 L875,234.8 L877,234.4 L879,233.8 L881,233.4 L883,233.6 L885,233.6 L887,233.7 L889,233.9 L891,233.2 L893,233.1 L895,233.3 L897,232.6 L899,232.6 L901,232.5 L903,232.7 L905,232.7 L907,231.9 L909,231.8 L911,231.2 L913,231.1 L915,230.9 L917,230.4 L919,230.3 L921,230.2 L923,230.2 L925,230 L927,229.6 L929,229.6 L931,229.6 L933,229.2 L935,229.4 L937,229.1 L939,228.6 L941,228.6 L943,228.5 L945,228.1 L947,228.3 L949,228.4 L951,228.3 L953,228.2 L955,227.5 L957,227.3 L959,227.1 L961,226.5 L963,226.5 L965,226 L967,226.1 L969,226.1 L971,225.9 L973,225.6 L975,225.2 L977,224.7 L979,224.6 L981,225 L983,224.8 L985,224.3 L987,224.3 L989,223.8 L991,223.6 L993,223.6 L995,223.9 L997,223.3 L999,223.1 L1001,223.3 L1003,223.1 L1005,222.8 L1007,222.5 L1009,222 L1011,221.7 L1013,221.2 L1015,221.5 L1017,221.6 L1019,221 L1021,221.2 L1023,220.3 L1025,219.8 L1027,219.9 L1029,219.6 L1031,219.4 L1033,219.9 L1035,219.3 L1037,218.9 L1039,218.7 L1041,218.9 L1043,218.6 L1045,218.1 L1047,218.2 L1049,218.1 L1051,217.9 L1053,217.9 L1055,218 L1057,218 L1059,217.9 L1061,217.8 L1063,217.9" stroke="#52278f"/>
<path d="M713,303 L715,301.5 L717,299.7 L719,300.4 L721,298.2 L723,298 L725,297.4 L727,296.6 L729,296.7 L731,295.8 L733,292.7 L735,291.9 L737,290.6 L739,289.6 L741,288 L743,286.4 L745,286.3 L747,285.2 L749,283.4 L751,281.9 L753,280.6 L755,279.1 L757,278.4 L759,276.7 L761,275.1 L763,273.6 L765,272.3 L767,271.9 L769,270.4 L771,269.4 L773,268.8 L775,267.5 L777,265.9 L779,265.3 L781,264.5 L783,262.6 L785,261.2 L787,260.2 L789,259.5 L791,258.2 L793,257.3 L795,255.8 L797,255 L799,253.6 L801,252.3 L803,251.7 L805,251 L807,250.2 L809,249 L811,247.8 L813,247.1 L815,246.2 L817,245.6 L819,244.9 L821,243.4 L823,242.5 L825,242 L827,240.9 L829,239.9 L831,238.9 L833,238.7 L835,238.9 L837,238.8 L839,237.5 L841,237.3 L843,236.6 L845,236.4 L847,235.8 L849,235.9 L851,235.9 L853,234.7 L855,234.6 L857,233.7 L859,232.9 L861,232.6 L863,232.8 L865,233.1 L867,232.1 L869,231.6 L871,230.8 L873,230.7 L875,230.5 L877,230 L879,229.6 L881,229.7 L883,229.6 L885,228.8 L887,228.2 L889,227.8 L891,227.6 L893,227.4 L895,226.3 L897,225.7 L899,224.8 L901,224.3 L903,222.9 L905,221.9 L907,220.9 L909,221.1 L911,220.2 L913,219.7 L915,218.7 L917,218.2 L919,217.3 L921,217.3 L923,216.5 L925,216.5 L927,215.8 L929,215.2 L931,214.9 L933,214.4 L935,213.8 L937,213 L939,212.4 L941,212.8 L943,212.1 L945,211.3 L947,210.7 L949,210.5 L951,210.9 L953,209.9 L955,210 L957,209.4 L959,208.7 L961,208.6 L963,207.9 L965,206.9 L967,206.7 L969,206.5 L971,206.2 L973,205.4 L975,205.6 L977,205.4 L979,205.3 L981,204.3 L983,204.1 L985,203.6 L987,202.5 L989,201.4 L991,200.8 L993,200.1 L995,199.5 L997,199.3 L999,199.4 L1001,198.7 L1003,198.4 L1005,197.4 L1007,196.8 L1009,197.2 L1011,196.1 L1013,195.8 L1015,195.8 L1017,195.6 L1019,195.2 L1021,194.4 L1023,194.2 L1025,193.9 L1027,193.5 L1029,193.3 L1031,192 L1033,192 L1035,191.2 L1037,190.9 L1039,190 L1041,190 L1043,188.8 L1045,188.6 L1047,187.9 L1049,187.5 L1051,187 L1053,186.9 L1055,186.8 L1057,186.1 L1059,185.8 L1061,185.1 L1063,184.4" stroke="#4a2184"/>
<path d="M713,298.7 L715,297.3 L717,294.3 L719,293 L721,293.3 L723,291 L725,291.1 L727,289.9 L729,289.2 L731,286.5 L733,284.2 L735,282.5 L737,281.6 L739,280.8 L741,278.7 L743,278.2 L745,277.2 L747,275.8 L749,275 L751,274.9 L753,272.6 L755,272 L757,270 L759,268.9 L761,266.6 L763,266 L765,264.2 L767,263.3 L769,261.2 L771,259.7 L773,258.7 L775,257 L777,255.6 L779,254.8 L781,254.2 L783,252.6 L785,251.1 L787,249.9 L789,249.5 L791,247.7 L793,246.7 L795,245.3 L797,244.3 L799,242.7 L801,241.7 L803,241 L805,240.1 L807,238.8 L809,237.5 L811,236.3 L813,234.6 L815,234.1 L817,233.1 L819,231.8 L821,230.9 L823,229.7 L825,228.5 L827,227.2 L829,226.6 L831,225.8 L833,224.9 L835,223.6 L837,223.2 L839,222.4 L841,222 L843,221.4 L845,221.3 L847,220.1 L849,219.5 L851,219.6 L853,219.2 L855,218.2 L857,217.9 L859,217.8 L861,216.9 L863,216.7 L865,215.4 L867,215.5 L869,214.7 L871,213.6 L873,213.5 L875,212.9 L877,212.6 L879,212.1 L881,211.5 L883,210.5 L885,210.2 L887,208.6 L889,208.4 L891,207.7 L893,206.5 L895,206.1 L897,205.1 L899,204.3 L901,203.9 L903,202.6 L905,201.6 L907,201.1 L909,199.9 L911,199.5 L913,199.2 L915,198.5 L917,197.4 L919,197.3 L921,196.9 L923,196.4 L925,195.6 L927,195.2 L929,194.7 L931,193.3 L933,192.5 L935,191.4 L937,190.4 L939,189.9 L941,190 L943,189.7 L945,188.4 L947,187.5 L949,186.8 L951,186.7 L953,186.1 L955,185.7 L957,184.2 L959,184.1 L961,182.7 L963,182.1 L965,181.8 L967,181 L969,179.6 L971,179 L973,178.1 L975,176.7 L977,175.9 L979,175.1 L981,174.7 L983,173.8 L985,173.3 L987,172.8 L989,171.7 L991,170.6 L993,170.4 L995,169.7 L997,168.6 L999,167.7 L1001,167.8 L1003,167.2 L1005,166.3 L1007,165.3 L1009,165.4 L1011,164.9 L1013,164.4 L1015,163.3 L1017,162.5 L1019,161.8 L1021,160.9 L1023,160.7 L1025,160.1 L1027,160.1 L1029,159.4 L1031,158.8 L1033,158.4 L1035,158.5 L1037,157.6 L1039,157.4 L1041,156.5 L1043,156.3 L1045,155.6 L1047,155.8 L1049,155 L1051,155.1 L1053,154.7 L1055,154.1 L1057,154.2 L1059,153.4 L1061,153.2 L1063,152.7" stroke="#3f2868"/>
<path d="M713,290.7 L715,288.7 L717,288 L719,286.4 L721,285.7 L723,287 L725,284.5 L727,284.1 L729,283.2 L731,280.4 L733,278.7 L735,276.2 L737,276.7 L739,274.2 L741,272.6 L743,270.8 L745,270.5 L747,269.7 L749,267.9 L751,266 L753,263.1 L755,262.7 L757,259.9 L759,258.2 L761,256.5 L763,255.5 L765,254.2 L767,252.2 L769,251.3 L771,250.3 L773,248 L775,246.9 L777,245.6 L779,244.3 L781,243.2 L783,241.9 L785,241.1 L787,240.1 L789,239.6 L791,238.8 L793,237.8 L795,235.9 L797,234.9 L799,233.5 L801,232.3 L803,231.5 L805,229.3 L807,228 L809,226.8 L811,226 L813,224.4 L815,224.2 L817,222.5 L819,221.3 L821,219.9 L823,219 L825,218.5 L827,217 L829,215.8 L831,215.4 L833,214.8 L835,214.4 L837,213.1 L839,212.9 L841,212.4 L843,211.9 L845,210.5 L847,209.9 L849,208.7 L851,209 L853,209 L855,208.8 L857,207.2 L859,206.5 L861,206.1 L863,205.7 L865,204.6 L867,204.6 L869,203.7 L871,203.1 L873,201.9 L875,201.6 L877,200.4 L879,199.4 L881,199.1 L883,198.2 L885,198 L887,196.8 L889,196 L891,194.6 L893,193.6 L895,192.8 L897,192.1 L899,191.1 L901,190.5 L903,188.8 L905,188.3 L907,186.7 L909,186.5 L911,185.4 L913,184.3 L915,183.5 L917,183.1 L919,182.6 L921,181.3 L923,179.6 L925,178.4 L927,178.3 L929,177.8 L931,177.2 L933,175.7 L935,175 L937,173.5 L939,172.4 L941,171.7 L943,171.9 L945,171.2 L947,170.7 L949,169 L951,168.1 L953,166.7 L955,165.8 L957,164.7 L959,164.8 L961,163.6 L963,162.8 L965,162.1 L967,161.7 L969,161.2 L971,160 L973,158.8 L975,158.3 L977,156.9 L979,155.6 L981,155.1 L983,153.7 L985,152.8 L987,152 L989,151.2 L991,150.3 L993,149.5 L995,148.8 L997,147.5 L999,147.5 L1001,146.1 L1003,145.7 L1005,145.1 L1007,144.3 L1009,143.3 L1011,142.3 L1013,141.8 L1015,141.1 L1017,140.8 L1019,139.9 L1021,139.9 L1023,139.3 L1025,138.1 L1027,137.7 L1029,138.1 L1031,136.8 L1033,136.6 L1035,136.9 L1037,136 L1039,135.7 L1041,135 L1043,134.4 L1045,134.3 L1047,134 L1049,133.3 L1051,133 L1053,132.7 L1055,132.7 L1057,131.6 L1059,130.8 L1061,130.4 L1063,130" stroke="#3b2a5e"/>
<path d="M713,287.5 L715,286.5 L717,286.3 L719,283.3 L721,280.3 L723,279.6 L725,275.9 L727,276.8 L729,276 L731,272.8 L733,270.1 L735,269.7 L737,268.6 L739,266.7 L741,263 L743,262.3 L745,259 L747,258.1 L749,256.6 L751,256 L753,254.1 L755,250.8 L757,250.2 L759,248.6 L761,246.6 L763,243.6 L765,242.4 L767,240.6 L769,239.2 L771,238.2 L773,236.9 L775,234.4 L777,233.4 L779,231.7 L781,230.6 L783,229 L785,227.6 L787,226.2 L789,224.5 L791,223.3 L793,222.7 L795,221 L797,219.6 L799,219.3 L801,218.5 L803,217.5 L805,215.9 L807,214.6 L809,213.7 L811,213.7 L813,212.9 L815,212.5 L817,211 L819,210.1 L821,209.4 L823,209.1 L825,207.6 L827,207.5 L829,206.6 L831,205.1 L833,204.6 L835,203.9 L837,203.7 L839,203.6 L841,202.8 L843,202.4 L845,201.5 L847,201.3 L849,200.1 L851,200 L853,199 L855,198.8 L857,197.9 L859,197.4 L861,196.6 L863,196.1 L865,196 L867,195.5 L869,194.8 L871,194.3 L873,194.1 L875,193 L877,192.3 L879,191.4 L881,191.2 L883,189.8 L885,189.1 L887,187.6 L889,186.4 L891,185.8 L893,184.8 L895,183.2 L897,181.4 L899,180.9 L901,179.4 L903,178.5 L905,177.1 L907,176 L909,174.9 L911,174.4 L913,173.6 L915,172.1 L917,170.8 L919,169.4 L921,168.8 L923,167.2 L925,166.2 L927,165.9 L929,164.3 L931,163.8 L933,163 L935,162.2 L937,161 L939,159.6 L941,159.6 L943,158.9 L945,158.2 L947,156.4 L949,155.9 L951,154.5 L953,153.2 L955,152.5 L957,151.8 L959,150.3 L961,149.9 L963,149 L965,148.6 L967,147.9 L969,146.8 L971,145.3 L973,144.9 L975,143.9 L977,142.4 L979,141.9 L981,141.1 L983,139.6 L985,138.3 L987,136.9 L989,136.5 L991,135.5 L993,134.6 L995,133.8 L997,132.8 L999,132.4 L1001,131.5 L1003,130.8 L1005,130 L1007,129.6 L1009,129.6 L1011,128.4 L1013,128.3 L1015,128.1 L1017,127.3 L1019,126.5 L1021,126.1 L1023,125.3 L1025,124.8 L1027,124.7 L1029,124.2 L1031,123 L1033,121.8 L1035,122.2 L1037,121.4 L1039,121.4 L1041,120.4 L1043,120 L1045,119.5 L1047,119.5 L1049,119.7 L1051,119 L1053,118.5 L1055,117.8 L1057,117 L1059,117.4 L1061,116.2 L1063,116.5" stroke="#372b55"/>
<path d="M713,269.8 L715,267.4 L717,268.8 L719,265.5 L721,265.3 L723,262.7 L725,264.5 L727,262.2 L729,262.6 L731,259.1 L733,258.8 L735,255.8 L737,253.4 L739,253.1 L741,253.7 L743,252.4 L745,251.5 L747,250.1 L749,247.9 L751,244.7 L753,243.4 L755,241.1 L757,239.9 L759,238.1 L761,236.7 L763,234.6 L765,233.7 L767,232 L769,230.5 L771,228.6 L773,227.5 L775,226.4 L777,225.9 L779,224.5 L781,222.7 L783,221.3 L785,220.1 L787,219.5 L789,219 L791,218.4 L793,217.5 L795,216.6 L797,215.5 L799,214.6 L801,212.4 L803,211.3 L805,210.5 L807,209.7 L809,208.8 L811,207.9 L813,207.5 L815,205.7 L817,204.9 L819,204.7 L821,202.9 L823,201.6 L825,201.6 L827,201.4 L829,199.6 L831,198.3 L833,198.3 L835,197.8 L837,197 L839,196.4 L841,196 L843,195.5 L845,193.9 L847,192.8 L849,192.9 L851,193 L853,192.6 L855,191.5 L857,190.5 L859,189.6 L861,188.4 L863,188.5 L865,187.5 L867,187 L869,186.4 L871,185.3 L873,184.8 L875,183.8 L877,182.5 L879,182.3 L881,180.7 L883,179.3 L885,178.1 L887,177.3 L889,176.8 L891,175.4 L893,173.9 L895,173 L897,171.4 L899,170.3 L901,168.7 L903,168.1 L905,166.3 L907,164.8 L909,163.6 L911,162.5 L913,162 L915,161.3 L917,160.6 L919,159.4 L921,157.7 L923,157.3 L925,155.9 L927,154.7 L929,153.8 L931,153.8 L933,152.5 L935,151.3 L937,151.1 L939,150.6 L941,149.2 L943,147.5 L945,147.1 L947,146.5 L949,145.1 L951,144.5 L953,143.2 L955,141.8 L957,141.1 L959,140.4 L961,139.3 L963,138.6 L965,136.7 L967,135.9 L969,134.8 L971,133.3 L973,133.2 L975,131.7 L977,130.5 L979,130.4 L981,130 L983,129.5 L985,127.9 L987,127.5 L989,125.8 L991,125.3 L993,125 L995,123.5 L997,122.2 L999,121.8 L1001,121.7 L1003,121 L1005,120.7 L1007,119.5 L1009,118.5 L1011,117.2 L1013,116.4 L1015,116.7 L1017,115.4 L1019,114.5 L1021,114 L1023,113.1 L1025,112.7 L1027,112.1 L1029,111.4 L1031,111.5 L1033,111.4 L1035,111.2 L1037,111.2 L1039,110.7 L1041,110.9 L1043,109.6 L1045,109 L1047,108.2 L1049,108 L1051,108.3 L1053,108.6 L1055,108.1 L1057,107.1 L1059,106.6 L1061,106.5 L1063,105.9" stroke="#30284a"/>
<path d="M713,258.9 L715,261.1 L717,258.3 L719,257.2 L721,257.5 L723,255.2 L725,251.9 L727,253.6 L729,254.3 L731,249.5 L733,249.7 L735,247.6 L737,244.3 L739,242.3 L741,240.6 L743,241.4 L745,239.3 L747,236.8 L749,235.5 L751,236.2 L753,235.1 L755,234.4 L757,232.8 L759,230.6 L761,228.3 L763,227.2 L765,225.4 L767,224.4 L769,224 L771,222.8 L773,221.9 L775,221.1 L777,219.7 L779,218.5 L781,218.3 L783,217.2 L785,215.9 L787,214.8 L789,213.6 L791,212.1 L793,211.8 L795,209.9 L797,209.5 L799,208.6 L801,207.7 L803,205.3 L805,204 L807,203.6 L809,201.7 L811,199.8 L813,199.2 L815,197.4 L817,196.5 L819,194.7 L821,194.6 L823,192.8 L825,191 L827,190.5 L829,189.1 L831,188.3 L833,187.2 L835,187 L837,185.7 L839,184.4 L841,182.5 L843,182 L845,180.9 L847,180.5 L849,180 L851,179.1 L853,177.6 L855,177 L857,176.4 L859,175.9 L861,175.9 L863,174.3 L865,173.3 L867,171.7 L869,171.6 L871,170.2 L873,169.9 L875,169.3 L877,167.5 L879,167.2 L881,165.8 L883,164.4 L885,163.3 L887,162.9 L889,161.4 L891,160 L893,158.4 L895,157.9 L897,156.5 L899,154.9 L901,153.2 L903,151.8 L905,151.6 L907,151.1 L909,150.7 L911,149.9 L913,148.7 L915,147.8 L917,146.8 L919,146 L921,145.2 L923,143.2 L925,142.8 L927,141.4 L929,140.1 L931,140.1 L933,138.3 L935,137.7 L937,136.7 L939,136.6 L941,135.8 L943,135.6 L945,135.2 L947,134 L949,132 L951,131.4 L953,129.8 L955,130 L957,129.5 L959,127.9 L961,126.3 L963,125.9 L965,125.4 L967,125.1 L969,124 L971,122 L973,121.5 L975,119.7 L977,119.7 L979,119.2 L981,118.6 L983,118 L985,116.8 L987,116.5 L989,115.4 L991,114.2 L993,113 L995,111.9 L997,110.4 L999,109.5 L1001,109.8 L1003,108.6 L1005,108.5 L1007,108.3 L1009,107.9 L1011,107 L1013,105.9 L1015,104.9 L1017,104 L1019,104 L1021,103.9 L1023,104.1 L1025,102.9 L1027,103.1 L1029,103 L1031,101.7 L1033,101.9 L1035,101.3 L1037,101.4 L1039,101 L1041,99.9 L1043,99 L1045,98.7 L1047,98.4 L1049,97.2 L1051,97.9 L1053,97.6 L1055,97.2 L1057,97.3 L1059,96.3 L1061,95.5 L1063,95.6" stroke="#2a2341"/>
</g>
<rect x="712.2" y="53.3" width="350.79999999999995" height="311.5" fill="none" stroke="#000" stroke-width="3"/>
<path d="M995,317 L910,131" stroke="#888" stroke-width="1.3"/>
<path d="M905.5,121 L914,133.5 L906,136.5 Z" fill="#888"/>
<text x="746.3" y="108" font-size="29" font-weight="bold">Bias voltage</text>
<text x="746" y="147" font-size="29" font-weight="bold">0~-9 V</text>
<text x="793.5" y="402.1" font-size="34.5" text-anchor="middle">10<tspan font-size="23.5" dy="-14.2">-6</tspan></text>
<text x="875.4" y="402.1" font-size="34.5" text-anchor="middle">10<tspan font-size="23.5" dy="-14.2">-5</tspan></text>
<text x="957.2" y="402.1" font-size="34.5" text-anchor="middle">10<tspan font-size="23.5" dy="-14.2">-4</tspan></text>
<text x="1039.1" y="402.1" font-size="34.5" text-anchor="middle">10<tspan font-size="23.5" dy="-14.2">-3</tspan></text>
<text x="709.5" y="111.8" font-size="34.5" text-anchor="end">10<tspan font-size="23.5" dy="-14.2">-3</tspan></text>
<text x="709.5" y="244.8" font-size="34.5" text-anchor="end">10<tspan font-size="23.5" dy="-14.2">-5</tspan></text>
<text x="709.5" y="377.8" font-size="34.5" text-anchor="end">10<tspan font-size="23.5" dy="-14.2">-7</tspan></text>
<text x="894.5" y="446" font-size="38.5" text-anchor="middle">Time (s)</text>
<text transform="translate(642.3,194.6) rotate(-90)" font-size="38.3" text-anchor="middle">Photocurrent (A)</text>
<path d="M159.8,559 V708.7 M219.3,652.4 V799.8" stroke="#4a7db8" stroke-width="1.9" fill="none"/>
<path d="M160,559 L220.8,652.4 M160,709.3 L219.3,799.8" stroke="#7f9f4f" stroke-width="5" fill="none"/>
<path d="M160.3,620.3 L218.7,709.9" stroke="#4a7db8" stroke-width="4.8" fill="none" stroke-dasharray="16,6.5"/>
<path d="M212,641.5 V788" stroke="#000" stroke-width="3.6" fill="none" stroke-dasharray="14.2,12.2"/>
<rect x="80" y="688.1" width="78.2" height="11.7" fill="#5d4a86"/>
<rect x="222.5" y="743.5" width="56.5" height="11.5" fill="#5d4a86"/>
<text x="59" y="683" font-size="36" fill="#5d4a86">anode</text>
<text x="224" y="736" font-size="36" fill="#5d4a86">cathode</text>
<text x="219.5" y="627.8" font-size="26">x<tspan font-size="18" dy="6">0</tspan></text>
<path d="M227.5,766 V790" stroke="#4a7db8" stroke-width="2.4"/>
<path d="M220.5,769 L227.5,756.5 L234.5,769 Z M220.5,787.5 L227.5,800 L234.5,787.5 Z" fill="#4a7db8"/>
<text x="248" y="776" font-size="30" style="font-family:'Liberation Serif', serif" font-style="italic">&#966;<tspan font-size="25" dy="6.6" dx="1.5" letter-spacing="3">cat</tspan></text>
<path d="M262,573.7 H295 V566.6 L309.1,580.7 L295,595 V587.8 H262 Z" fill="#8fae5f"/>
<path d="M353.4,557.7 V708.3" stroke="#4a7db8" stroke-width="1.9" fill="none"/>
<path d="M424.3,688 V779" stroke="#4a7db8" stroke-width="1.4" fill="none"/>
<path d="M353.4,557.7 H392 C402,557.7 408,568 412,585 C418,612 422,650 424.3,690" stroke="#7f9f4f" stroke-width="5" fill="none"/>
<path d="M353.4,708.3 H392 C402,708.3 408,716 412,730 C418,755 422,790 424.3,841" stroke="#7f9f4f" stroke-width="5" fill="none"/>
<path d="M355,619.6 H393 C403,619.6 410,626 415,648 C419,670 422.5,710 423.4,752" stroke="#4a7db8" stroke-width="4.6" fill="none" stroke-dasharray="16,6.5"/>
<path d="M418.6,615 V760" stroke="#000" stroke-width="3.6" fill="none" stroke-dasharray="14.2,11.5"/>
<rect x="292.5" y="688.1" width="58" height="11.7" fill="#5d4a86"/>
<rect x="427.5" y="745.5" width="60" height="11.5" fill="#5d4a86"/>
<text x="251.5" y="683" font-size="36" fill="#5d4a86">anode</text>
<text x="429" y="735.5" font-size="36" fill="#5d4a86">cathode</text>
<text x="425.5" y="627.8" font-size="26">x<tspan font-size="18" dy="6">0</tspan></text>
<path d="M430,755.6 L428.9,771 C428,779 426,784 421,786 L413,788" stroke="#e07820" stroke-width="3" fill="none" stroke-linejoin="round"/>
<path d="M401.2,778.1 L417,782.8 L406.9,793.4 Z" fill="#e07820"/>
<text x="267" y="869.3" font-size="36" fill="#e07820">charge injection</text>
<clipPath id="c4"><rect x="715.8" y="556.0" width="340.70000000000005" height="283.29999999999995"/></clipPath>
<path d="M716,645.4 L720,644.8 L724,644.2 L728,643.6 L732,642.9 L736,642.3 L740,641.7 L744,641 L748,640.4 L752,639.7 L756,639.1 L760,638.4 L764,637.7 L768,637 L772,636.3 L776,635.6 L780,634.9 L784,634.2 L788,633.4 L792,632.7 L796,631.9 L800,631.2 L804,630.4 L808,629.6 L812,628.8 L816,628 L820,627.1 L824,626.3 L828,625.4 L832,624.6 L836,623.7 L840,622.8 L844,621.9 L848,621 L852,620 L856,619 L860,618.1 L864,617.1 L868,616 L872,615 L876,614 L880,612.9 L884,611.8 L888,610.6 L892,609.5 L896,608.3 L900,607.1 L904,605.9 L908,604.6 L912,603.3 L916,602 L920,600.7 L924,599.3 L928,597.8 L932,596.4 L936,594.9 L940,593.3 L944,591.7 L948,590.1 L952,588.4 L956,586.6 L960,584.8 L964,582.9 L968,581 L972,579 L976,576.9 L980,574.7 L984,572.4 L988,570 L992,567.5 L996,564.9 L1000,562.2 L1004,559.3 L1008,556.2 L1012,553 L1016,549.5 L1020,545.8 L1024,541.8 L1060,540 L1060,549.2 L1057.5,549.2 L1056,557.4 L1052,574.4 L1048,587.3 L1044,597.7 L1040,606.4 L1036,613.8 L1032,620.4 L1028,626.2 L1024,631.5 L1020,636.2 L1016,640.6 L1012,644.7 L1008,648.5 L1004,652 L1000,655.3 L996,658.4 L992,661.3 L988,664.1 L984,666.8 L980,669.3 L976,671.7 L972,674 L968,676.2 L964,678.3 L960,680.4 L956,682.4 L952,684.2 L948,686.1 L944,687.8 L940,689.6 L936,691.2 L932,692.8 L928,694.4 L924,695.9 L920,697.4 L916,698.8 L912,700.2 L908,701.6 L904,702.9 L900,704.2 L896,705.5 L892,706.7 L888,707.9 L884,709.1 L880,710.3 L876,711.4 L872,712.5 L868,713.6 L864,714.7 L860,715.7 L856,716.7 L852,717.7 L848,718.7 L844,719.7 L840,720.6 L836,721.6 L832,722.5 L828,723.4 L824,724.3 L820,725.1 L816,726 L812,726.8 L808,727.7 L804,728.5 L800,729.3 L796,730.1 L792,730.9 L788,731.7 L784,732.4 L780,733.2 L776,733.9 L772,734.6 L768,735.4 L764,736.1 L760,736.8 L756,737.5 L752,738.1 L748,738.8 L744,739.5 L740,740.1 L736,740.8 L732,741.4 L728,742.1 L724,742.7 L720,743.3 L716,743.9 Z" fill="#d9cbda" clip-path="url(#c4)"/>
<path d="M716,645.4 L720,644.8 L724,644.2 L728,643.6 L732,642.9 L736,642.3 L740,641.7 L744,641 L748,640.4 L752,639.7 L756,639.1 L760,638.4 L764,637.7 L768,637 L772,636.3 L776,635.6 L780,634.9 L784,634.2 L788,633.4 L792,632.7 L796,631.9 L800,631.2 L804,630.4 L808,629.6 L812,628.8 L816,628 L820,627.1 L824,626.3 L828,625.4 L832,624.6 L836,623.7 L840,622.8 L844,621.9 L848,621 L852,620 L856,619 L860,618.1 L864,617.1 L868,616 L872,615 L876,614 L880,612.9 L884,611.8 L888,610.6 L892,609.5 L896,608.3 L900,607.1 L904,605.9 L908,604.6 L912,603.3 L916,602 L920,600.7 L924,599.3 L928,597.8 L932,596.4 L936,594.9 L940,593.3 L944,591.7 L948,590.1 L952,588.4 L956,586.6 L960,584.8 L964,582.9 L968,581 L972,579 L976,576.9 L980,574.7 L984,572.4 L988,570 L992,567.5 L996,564.9 L1000,562.2 L1004,559.3 L1008,556.2 L1012,553 L1016,549.5 L1020,545.8 L1024,541.8" stroke="#6e1a78" stroke-width="2.9" fill="none" stroke-dasharray="5.5,5.5" clip-path="url(#c4)"/>
<path d="M716,743.9 L720,743.3 L724,742.7 L728,742.1 L732,741.4 L736,740.8 L740,740.1 L744,739.5 L748,738.8 L752,738.1 L756,737.5 L760,736.8 L764,736.1 L768,735.4 L772,734.6 L776,733.9 L780,733.2 L784,732.4 L788,731.7 L792,730.9 L796,730.1 L800,729.3 L804,728.5 L808,727.7 L812,726.8 L816,726 L820,725.1 L824,724.3 L828,723.4 L832,722.5 L836,721.6 L840,720.6 L844,719.7 L848,718.7 L852,717.7 L856,716.7 L860,715.7 L864,714.7 L868,713.6 L872,712.5 L876,711.4 L880,710.3 L884,709.1 L888,707.9 L892,706.7 L896,705.5 L900,704.2 L904,702.9 L908,701.6 L912,700.2 L916,698.8 L920,697.4 L924,695.9 L928,694.4 L932,692.8 L936,691.2 L940,689.6 L944,687.8 L948,686.1 L952,684.2 L956,682.4 L960,680.4 L964,678.3 L968,676.2 L972,674 L976,671.7 L980,669.3 L984,666.8 L988,664.1 L992,661.3 L996,658.4 L1000,655.3 L1004,652 L1008,648.5 L1012,644.7 L1016,640.6 L1020,636.2 L1024,631.5 L1028,626.2 L1032,620.4 L1036,613.8 L1040,606.4 L1044,597.7 L1048,587.3 L1052,574.4 L1056,557.4 L1057.5,549.2" stroke="#6e1a78" stroke-width="2.9" fill="none" stroke-dasharray="5.5,5.5" clip-path="url(#c4)"/>
<path d="M719,693.3 H1054" stroke="#8a8a8a" stroke-width="2.2" stroke-dasharray="7,5.5"/>
<path d="M943,560 V692" stroke="#a0a0a0" stroke-width="3" stroke-dasharray="12,6" opacity="0.8"/>
<path d="M715.8,838.2 h5 M715.8,828.5 h5 M715.8,820.2 h5 M715.8,813.1 h5 M715.8,806.8 h5 M715.8,801.2 h9.5 M715.8,764.2 h5 M715.8,742.6 h5 M715.8,727.2 h5 M715.8,715.3 h5 M715.8,705.6 h5 M715.8,697.3 h5 M715.8,690.2 h5 M715.8,683.9 h5 M715.8,678.3 h9.5 M715.8,641.3 h5 M715.8,619.7 h5 M715.8,604.3 h5 M715.8,592.4 h5 M715.8,582.7 h5 M715.8,574.4 h5 M715.8,567.3 h5 M715.8,561 h5 " stroke="#000" stroke-width="2.5" fill="none"/>
<path d="M772,556 v9 M828.9,556 v9 M885.8,556 v9 M942.6,556 v9 M999.5,556 v9 M743.6,556 v4.5 M800.4,556 v4.5 M857.3,556 v4.5 M914.2,556 v4.5 M971.1,556 v4.5 M1028,556 v4.5 " stroke="#6e1a78" stroke-width="2.5" fill="none"/>
<path d="M739.6,839.3 v-7 M847.8,839.3 v-7 M903.8,839.3 v-7 M960.9,839.3 v-7 M1017.2,839.3 v-7 M794.8,839.3 v-3.5 M831,839.3 v-3.5 M887.2,839.3 v-3.5 M943.5,839.3 v-3.5 M1000.3,839.3 v-3.5 " stroke="#1a1a80" stroke-width="2.5" fill="none"/>
<path d="M715.8,556.0 V839.3 M1056.5,556.0 V839.3" stroke="#000" stroke-width="2.8" fill="none"/>
<path d="M714.4,556.0 H1057.9" stroke="#6e1a78" stroke-width="2.6" fill="none"/>
<path d="M714.4,839.3 H1057.9" stroke="#1a1a80" stroke-width="2.8" fill="none"/>
<path d="M806,846.5 L823,832.5 M812,846.5 L829,832.5" stroke="#1a1a80" stroke-width="2.4"/>
<path d="M739.7,805.7 L860.9,728.4 L916.9,699.3 L973.3,694.9 L1030.2,676.8" stroke="#14146a" stroke-width="3" fill="none"/>
<path d="M739.7,791.6 V825.4 M733.9,791.6 h11.6 M733.9,825.4 h11.6 M860.9,715 V747.2 M855.1,715 h11.6 M855.1,747.2 h11.6 M916.9,685.5 V718.4 M911.1,685.5 h11.6 M911.1,718.4 h11.6 M973.3,681.5 V714.3 M967.5,681.5 h11.6 M967.5,714.3 h11.6 M1030.2,662.7 V695.5 M1024.4,662.7 h11.6 M1024.4,695.5 h11.6 " stroke="#1a1a80" stroke-width="1.5" fill="none"/>
<defs><radialGradient id="ball" cx="0.38" cy="0.32" r="0.7"><stop offset="0" stop-color="#b8b8ff"/><stop offset="0.35" stop-color="#2a2ad0"/><stop offset="1" stop-color="#0a0a80"/></radialGradient></defs>
<circle cx="739.7" cy="805.7" r="6" fill="url(#ball)"/>
<circle cx="860.9" cy="728.4" r="6" fill="url(#ball)"/>
<circle cx="916.9" cy="699.3" r="6" fill="url(#ball)"/>
<circle cx="973.3" cy="694.9" r="6" fill="url(#ball)"/>
<circle cx="1030.2" cy="676.8" r="6" fill="url(#ball)"/>
<path d="M772.7,812.4 H812" stroke="#1a1a80" stroke-width="2.4"/>
<circle cx="791.8" cy="812.4" r="6" fill="url(#ball)"/>
<text x="820" y="820.6" font-size="27" font-weight="bold"><tspan font-style="italic">N</tspan><tspan font-size="20" dy="6.5">dop</tspan><tspan dy="-6.5"> based on CV</tspan></text>
<text x="740.2" y="676" font-size="29">Inferred <tspan font-style="italic">N</tspan><tspan font-size="20" dy="8.5">dop</tspan></text>
<text x="813" y="586.4" font-size="28" font-weight="bold" fill="#858585"><tspan font-style="italic">V</tspan><tspan font-size="18.7" dy="6.8">onset</tspan><tspan dy="-6.8">=4 V</tspan></text>
<text transform="translate(730,637.5) rotate(-11.5)" font-size="28" font-weight="bold" fill="#5e4a72">x<tspan font-size="18" dy="6">0</tspan><tspan dy="-6">=2 nm</tspan></text>
<text transform="translate(723.5,767.5) rotate(-8)" font-size="27" font-weight="bold" fill="#5e4a72">x<tspan font-size="18" dy="6">0</tspan><tspan dy="-6">=5 nm</tspan></text>
<text x="646.5" y="574.4" font-size="33">10<tspan font-size="22" dy="-13">19</tspan></text>
<text x="646.5" y="697.3" font-size="33">10<tspan font-size="22" dy="-13">18</tspan></text>
<text x="646.5" y="820.2" font-size="33">10<tspan font-size="22" dy="-13">17</tspan></text>
<text x="720.1" y="545.5" font-size="31.5" text-anchor="middle" fill="#6e1a78">12</text>
<text x="777" y="545.5" font-size="31.5" text-anchor="middle" fill="#6e1a78">10</text>
<text x="833.9" y="545.5" font-size="31.5" text-anchor="middle" fill="#6e1a78">8</text>
<text x="890.8" y="545.5" font-size="31.5" text-anchor="middle" fill="#6e1a78">6</text>
<text x="947.6" y="545.5" font-size="31.5" text-anchor="middle" fill="#6e1a78">4</text>
<text x="1004.5" y="545.5" font-size="31.5" text-anchor="middle" fill="#6e1a78">2</text>
<text x="1061.4" y="545.5" font-size="31.5" text-anchor="middle" fill="#6e1a78">0</text>
<text x="744.6" y="870.6" font-size="33" text-anchor="middle" fill="#3a1282">0</text>
<text x="1018.5" y="870.6" font-size="33" text-anchor="middle" fill="#1a1a80">100</text>
<text x="885.5" y="906.7" font-size="38" text-anchor="middle" fill="#1a1a80">Light intensity (<tspan font-family="'Liberation Serif', serif">&#956;</tspan>W/cm<tspan font-size="25" dy="-14">2</tspan><tspan dy="14">)</tspan></text>
<text x="888" y="502" font-size="38" text-anchor="middle" fill="#6e1a78"><tspan font-style="italic">V</tspan><tspan font-size="26" dy="10">onset</tspan><tspan dy="-10"> (V)</tspan></text>
<text transform="translate(619.7,670.5) rotate(-90)" font-size="38.8" text-anchor="middle"><tspan font-style="italic">N</tspan><tspan font-size="27.5" dy="10">dop</tspan><tspan dy="-10"> (cm</tspan><tspan font-size="24" dy="-14">-3</tspan><tspan dy="14">)</tspan></text>
</svg>
</body></html>
